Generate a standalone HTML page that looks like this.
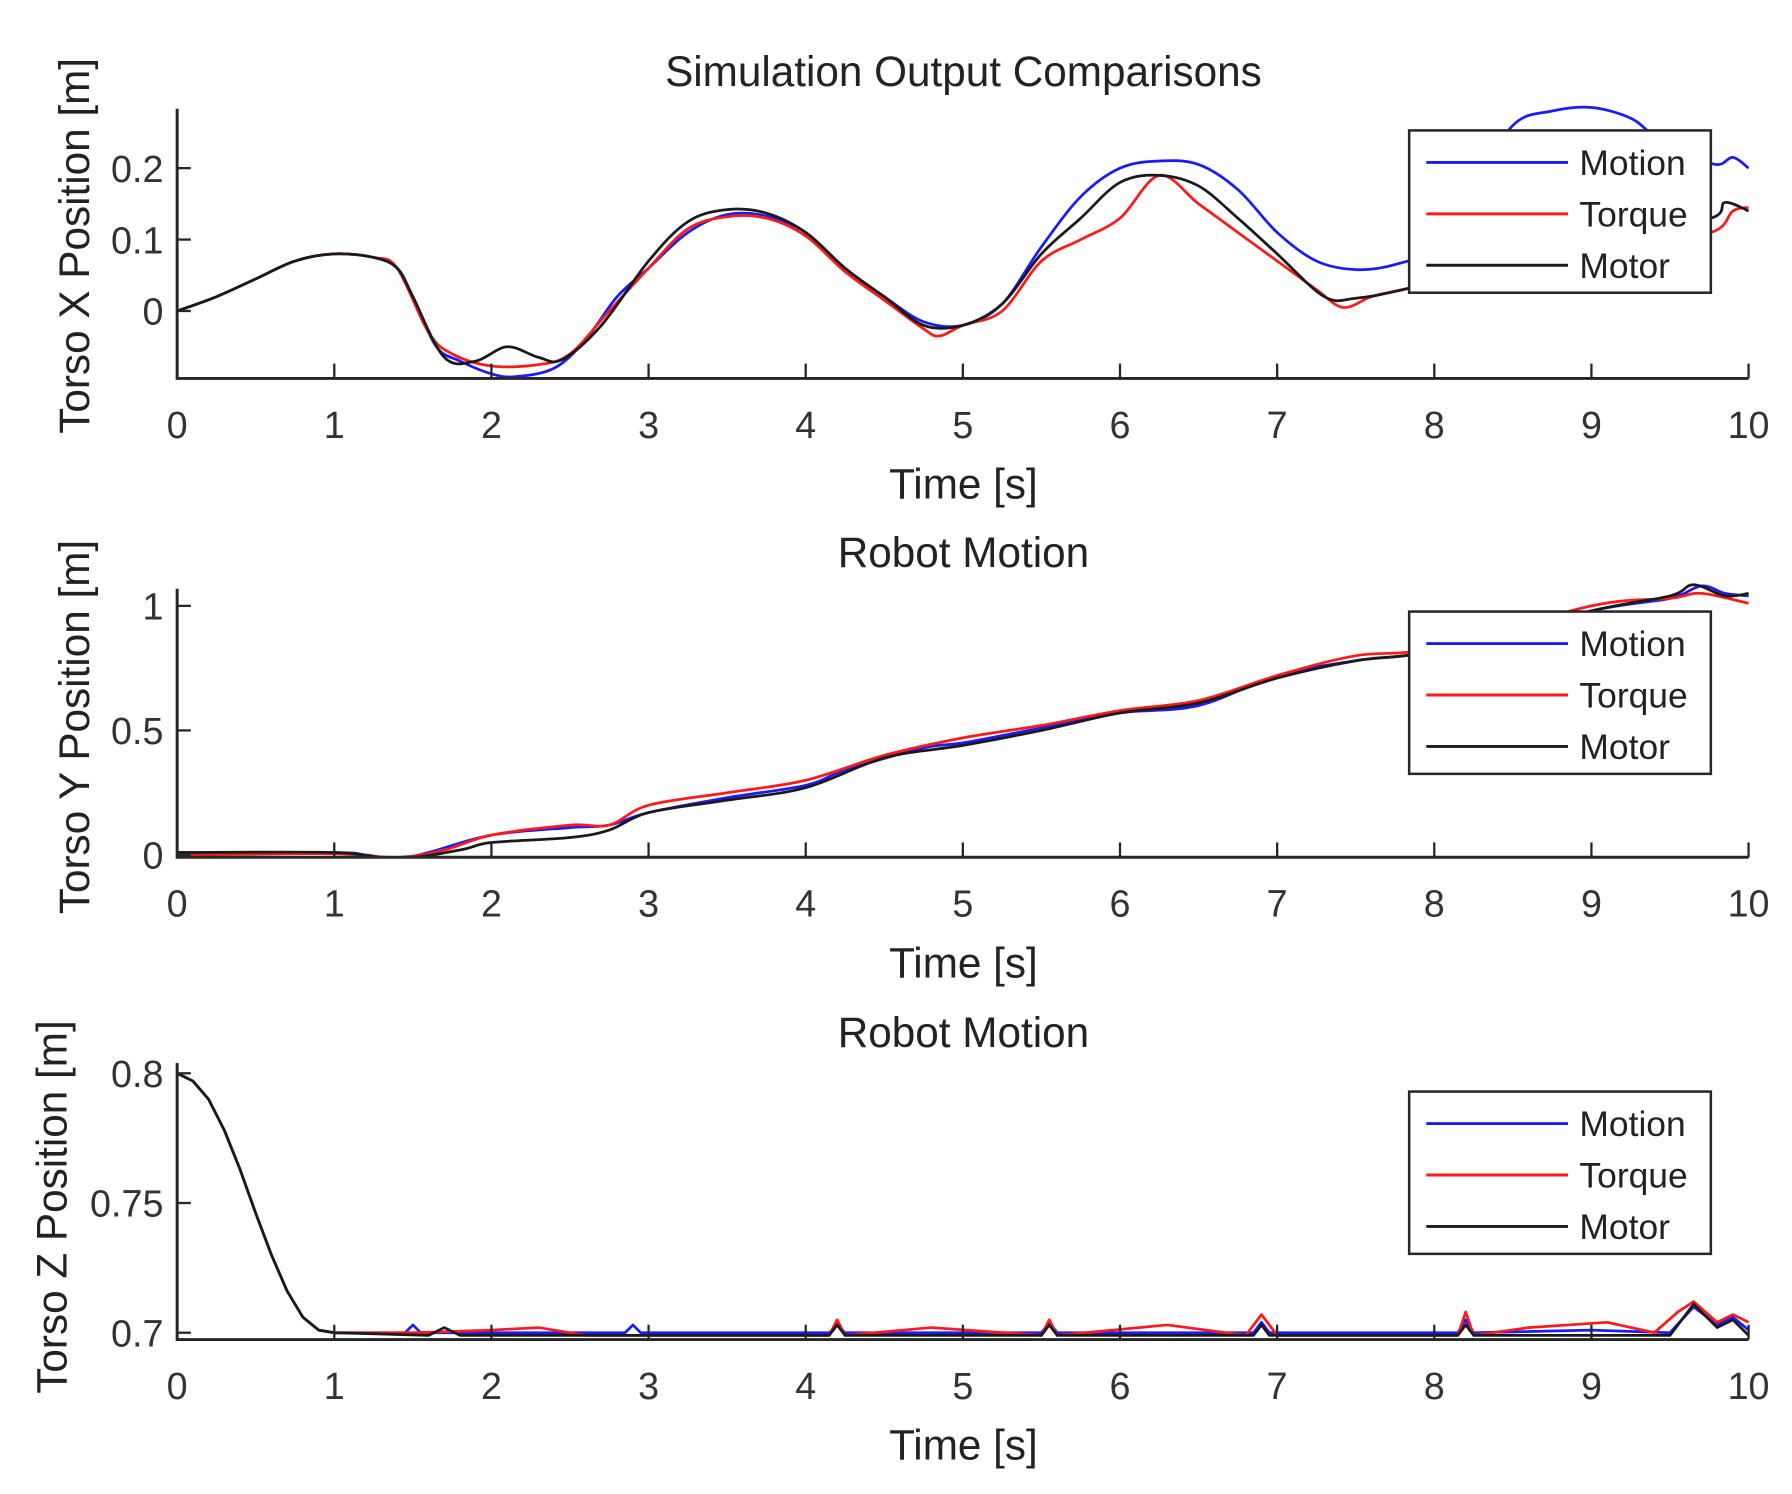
<!DOCTYPE html>
<html><head><meta charset="utf-8"><style>
html,body{margin:0;padding:0;background:#fff;}
svg{display:block;font-family:"Liberation Sans",sans-serif;}
</style></head><body>
<svg id="fig" width="1792" height="1494" viewBox="0 0 1568 1307" xmlns="http://www.w3.org/2000/svg"></svg>
<script>
// ---- Data ----
const xTicks=[0,1,2,3,4,5,6,7,8,9,10];
const seriesNames=["Motion","Torque","Motor"];
const seriesColors=["#1a1aff","#ff1a1a","#1a1a1a"];
// Plot 1: Torso X
const xMotionT=[0,0.25,0.5,0.75,1,1.25,1.4,1.5,1.65,1.8,2,2.15,2.4,2.6,2.8,3,3.25,3.5,3.75,4,4.25,4.5,4.75,5,5.25,5.5,5.75,6,6.25,6.5,6.75,7,7.25,7.5,7.75,8,8.25,8.5,8.75,9,9.25,9.4,9.6,9.8,9.9,10];
const xMotionV=[0,0.02,0.045,0.07,0.08,0.075,0.06,0.02,-0.05,-0.07,-0.088,-0.092,-0.08,-0.04,0.02,0.06,0.11,0.135,0.133,0.11,0.06,0.02,-0.015,-0.02,0.01,0.09,0.16,0.2,0.21,0.205,0.17,0.11,0.07,0.058,0.065,0.09,0.17,0.26,0.28,0.285,0.27,0.245,0.22,0.205,0.215,0.2];
const xTorqueT=[0,0.25,0.5,0.75,1,1.25,1.4,1.6,1.75,2,2.3,2.5,2.75,3,3.25,3.5,3.75,4,4.25,4.5,4.75,4.85,5,5.25,5.5,5.75,6,6.25,6.5,6.75,7,7.25,7.42,7.6,7.8,8.5,9.2,9.76,9.9,10];
const xTorqueV=[0,0.02,0.045,0.07,0.08,0.075,0.06,-0.03,-0.06,-0.077,-0.075,-0.06,0,0.06,0.115,0.132,0.13,0.105,0.055,0.015,-0.025,-0.035,-0.02,0,0.07,0.1,0.13,0.19,0.15,0.11,0.07,0.03,0.005,0.02,0.03,0.06,0.09,0.11,0.14,0.145];
const xMotorT=[0,0.25,0.5,0.75,1,1.25,1.4,1.5,1.7,1.9,2.1,2.3,2.45,2.7,3,3.25,3.5,3.75,4,4.25,4.5,4.75,5,5.25,5.5,5.75,6,6.25,6.5,6.75,7,7.3,7.5,7.8,8.5,9.2,9.76,9.85,10];
const xMotorV=[0,0.02,0.045,0.07,0.08,0.075,0.06,0.02,-0.065,-0.07,-0.05,-0.065,-0.068,-0.02,0.07,0.125,0.142,0.137,0.11,0.06,0.02,-0.02,-0.02,0.01,0.08,0.13,0.18,0.19,0.175,0.13,0.08,0.02,0.018,0.03,0.07,0.11,0.13,0.152,0.14];
// Plot 2: Torso Y
const yMotionT=[0,1,1.2,1.4,1.6,2,2.5,2.75,3,3.5,4,4.25,4.75,5,5.5,6,6.5,7,7.5,8,9,9.5,9.7,9.85,10];
const yMotionV=[0.01,0.01,0,-0.015,0.01,0.08,0.11,0.12,0.17,0.23,0.28,0.34,0.43,0.45,0.51,0.57,0.6,0.72,0.78,0.82,0.98,1.03,1.08,1.05,1.04];
const yTorqueT=[0,1,1.4,1.7,2,2.5,2.75,3,3.5,4,4.5,5,5.5,6,6.5,7,7.5,8,9,9.5,9.7,10];
const yTorqueV=[0,0.005,-0.01,0.02,0.08,0.12,0.12,0.2,0.25,0.3,0.4,0.47,0.52,0.58,0.62,0.72,0.8,0.83,1,1.03,1.05,1.01];
const yMotorT=[0,1,1.4,1.8,2,2.5,2.75,3,3.5,4,4.5,5,5.5,6,6.5,7,7.5,8,9,9.5,9.65,9.85,10];
const yMotorV=[0.01,0.01,-0.015,0.02,0.05,0.07,0.1,0.17,0.22,0.27,0.39,0.44,0.5,0.57,0.61,0.71,0.78,0.82,0.98,1.04,1.085,1.04,1.05];
// Plot 3: Torso Z
const zMotionT=[0,0.1,0.2,0.3,0.4,0.5,0.6,0.7,0.8,0.9,1,1.45,1.5,1.55,2,2.85,2.9,2.95,4.15,4.2,4.25,5.5,5.55,5.6,6.85,6.9,6.95,8.15,8.2,8.25,9,9.5,9.65,9.8,9.9,10];
const zMotionV=[0.8,0.797,0.79,0.778,0.763,0.746,0.73,0.716,0.706,0.701,0.7,0.7,0.703,0.7,0.7,0.7,0.703,0.7,0.7,0.703,0.7,0.7,0.704,0.7,0.7,0.704,0.7,0.7,0.705,0.7,0.701,0.7,0.71,0.703,0.706,0.701];
const zTorqueT=[0,0.1,0.2,0.3,0.4,0.5,0.6,0.7,0.8,0.9,1,1.5,2,2.3,2.6,4.15,4.2,4.25,4.8,5.5,5.55,5.6,6.3,6.8,6.9,7,8.15,8.2,8.25,8.6,9.1,9.4,9.55,9.65,9.8,9.9,10];
const zTorqueV=[0.8,0.797,0.79,0.778,0.763,0.746,0.73,0.716,0.706,0.701,0.7,0.7,0.701,0.702,0.699,0.699,0.705,0.699,0.702,0.699,0.705,0.699,0.703,0.699,0.707,0.699,0.699,0.708,0.699,0.702,0.704,0.7,0.708,0.712,0.704,0.707,0.704];
const zMotorT=[0,0.1,0.2,0.3,0.4,0.5,0.6,0.7,0.8,0.9,1,1.6,1.7,1.8,2,4.15,4.2,4.25,5.5,5.55,5.6,6.85,6.9,6.95,8.15,8.2,8.25,9.5,9.65,9.8,9.9,10];
const zMotorV=[0.8,0.797,0.79,0.778,0.763,0.746,0.73,0.716,0.706,0.701,0.7,0.699,0.702,0.699,0.699,0.699,0.703,0.699,0.699,0.703,0.699,0.699,0.703,0.699,0.699,0.703,0.699,0.699,0.711,0.702,0.705,0.699];

const NS="http://www.w3.org/2000/svg";
const svg=document.getElementById('fig');
function mk(tag,attrs,parent){const e=document.createElementNS(NS,tag);for(const k in attrs)e.setAttribute(k,attrs[k]);(parent||svg).appendChild(e);return e;}
function smoothPath(pts){
  let d="M"+pts[0][0].toFixed(1)+","+pts[0][1].toFixed(1);
  for(let i=0;i<pts.length-1;i++){
    const p0=pts[Math.max(0,i-1)],p1=pts[i],p2=pts[i+1],p3=pts[Math.min(pts.length-1,i+2)];
    const c1=[p1[0]+(p2[0]-p0[0])/6,p1[1]+(p2[1]-p0[1])/6];
    const c2=[p2[0]-(p3[0]-p1[0])/6,p2[1]-(p3[1]-p1[1])/6];
    d+="C"+c1[0].toFixed(1)+","+c1[1].toFixed(1)+" "+c2[0].toFixed(1)+","+c2[1].toFixed(1)+" "+p2[0].toFixed(1)+","+p2[1].toFixed(1);
  }
  return d;
}
function linePath(pts){return "M"+pts.map(p=>p[0].toFixed(1)+","+p[1].toFixed(1)).join("L");}
function drawPlot(cfg){
  const L=155,R=1530;
  const xs=t=>L+(t/10)*(R-L);
  const ys=v=>cfg.y0px+(v-cfg.v0)*(cfg.y1px-cfg.y0px)/(cfg.v1-cfg.v0);
  const g=mk('g',{});
  
  
  const cid='clip-'+cfg.name;
  const cp=mk('clipPath',{id:cid},g);
  mk('rect',{x:L,y:cfg.top-20,width:R-L+3,height:cfg.bottom-cfg.top+20},cp);
  const ti=mk('text',{x:843,y:cfg.titleY,'text-anchor':'middle','font-size':37,fill:'#222'},g);
  ti.textContent=cfg.title;
  
  
  const yl=mk('text',{x:0,y:0,'text-anchor':'middle','font-size':37,fill:'#222',transform:`translate(${cfg.ylabX},${cfg.ylabY}) rotate(-90)`},g);
  yl.textContent=cfg.ylabel;
  
  
  const lines=mk('g',{'clip-path':`url(#${cid})`},g);
  cfg.series.forEach((s,i)=>{
    const pts=s[0].map((t,j)=>[xs(t),ys(s[1][j])]);
    const p=mk('path',{d:cfg.linear?linePath(pts):smoothPath(pts),fill:'none',stroke:seriesColors[i],'stroke-width':2.4,'stroke-linejoin':'round'},lines);
    
    
  });
  const ax=mk('path',{d:`M${L},${cfg.top}V${cfg.bottom}H${R}`,fill:'none',stroke:'#262626','stroke-width':2.6},g);
  
  
  xTicks.forEach(t=>{
    mk('line',{x1:xs(t),x2:xs(t),y1:cfg.bottom,y2:cfg.bottom-13,stroke:'#262626','stroke-width':2},g);
    const tl=mk('text',{x:xs(t),y:cfg.bottom+52,'text-anchor':'middle','font-size':33,fill:'#333'},g);
    tl.textContent=t;
    
    
  });
  cfg.yTicks.forEach((v,i)=>{
    mk('line',{x1:L,x2:L+12,y1:ys(v),y2:ys(v),stroke:'#262626','stroke-width':2},g);
    const tl=mk('text',{x:L-12,y:ys(v)+12,'text-anchor':'end','font-size':33,fill:'#333'},g);
    tl.textContent=cfg.yTickLabels[i];
    
    
  });
  const xl=mk('text',{x:843,y:cfg.bottom+105,'text-anchor':'middle','font-size':37,fill:'#222'},g);
  xl.textContent='Time [s]';
  
  
  const lg=mk('g',{},g);
  
  
  mk('rect',{x:1233,y:cfg.legY,width:264,height:142,fill:'#fff',stroke:'#262626','stroke-width':2.2},lg);
  seriesNames.forEach((n,i)=>{
    const yy=cfg.legY+28+i*45;
    const e=mk('g',{},lg);
    
    
    mk('line',{x1:1248,x2:1372,y1:yy,y2:yy,stroke:seriesColors[i],'stroke-width':2.6},e);
    const tx=mk('text',{x:1382,y:yy+11,'font-size':31,fill:'#222'},e);
    tx.textContent=n;
  });
}
drawPlot({name:'plot-torso-x',title:'Simulation Output Comparisons',titleY:75,ylabel:'Torso X Position [m]',ylabX:78,ylabY:215,
  top:95,bottom:331,v0:0,v1:0.2,y0px:272,y1px:147,yTicks:[0,0.1,0.2],yTickLabels:['0','0.1','0.2'],legY:114,
  series:[[xMotionT,xMotionV],[xTorqueT,xTorqueV],[xMotorT,xMotorV]]});
drawPlot({name:'plot-torso-y',title:'Robot Motion',titleY:496,ylabel:'Torso Y Position [m]',ylabX:78,ylabY:636,
  top:515,bottom:750,v0:0,v1:1,y0px:748,y1px:530,yTicks:[0,0.5,1],yTickLabels:['0','0.5','1'],legY:535,
  series:[[yMotionT,yMotionV],[yTorqueT,yTorqueV],[yMotorT,yMotorV]]});
drawPlot({name:'plot-torso-z',title:'Robot Motion',titleY:916,ylabel:'Torso Z Position [m]',ylabX:58,ylabY:1056,linear:true,
  top:930,bottom:1172,v0:0.7,v1:0.8,y0px:1166,y1px:939,yTicks:[0.7,0.75,0.8],yTickLabels:['0.7','0.75','0.8'],legY:955,
  series:[[zMotionT,zMotionV],[zTorqueT,zTorqueV],[zMotorT,zMotorV]]});
</script>
</body></html>
